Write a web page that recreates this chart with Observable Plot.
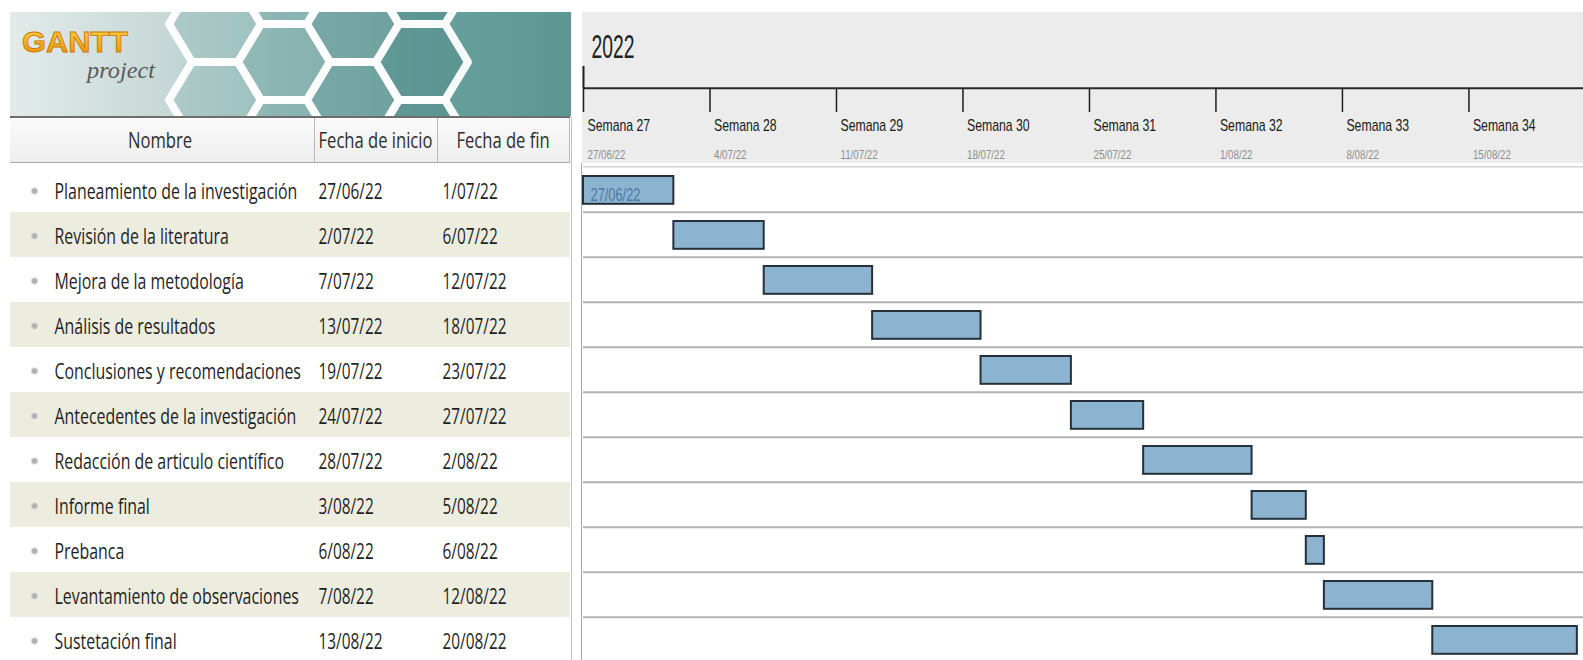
<!DOCTYPE html>
<html>
<head>
<meta charset="utf-8">
<script src="https://cdn.jsdelivr.net/npm/d3@7"></script>
<script src="https://cdn.jsdelivr.net/npm/@observablehq/plot@0.6"></script>
<style>
  html, body { margin: 0; padding: 0; background: #fff; }
  body { width: 1583px; height: 660px; overflow: hidden; position: relative; }
  .abs { position: absolute; }
  svg { display: block; }
</style>
</head>
<body>
<div id="logo" class="abs" style="left:10px;top:12px;width:561px;height:104px"></div>
<div id="thead" class="abs" style="left:10px;top:116px;width:560px;height:47px"></div>
<div id="table" class="abs" style="left:10px;top:163px"></div>
<div id="timeline" class="abs" style="left:582px;top:12px"></div>
<div id="gantt" class="abs" style="left:582px;top:163px"></div>
<div class="abs" style="left:571px;top:116px;width:1px;height:544px;background:#c4c4c4"></div>
<div class="abs" style="left:581px;top:163px;width:1px;height:497px;background:#a9a9a9"></div>
<script>
// ---------------- data ----------------
const tasks = [
  "Planeamiento de la investigación",
  "Revisión de la literatura",
  "Mejora de la metodología",
  "Análisis de resultados",
  "Conclusiones y recomendaciones",
  "Antecedentes de la investigación",
  "Redacción de articulo científico",
  "Informe final",
  "Prebanca",
  "Levantamiento de observaciones",
  "Sustetación final"
];
const startDates = ["2022-06-27","2022-07-02","2022-07-07","2022-07-13","2022-07-19","2022-07-24","2022-07-28","2022-08-03","2022-08-06","2022-08-07","2022-08-13"];
const endDates   = ["2022-07-01","2022-07-06","2022-07-12","2022-07-18","2022-07-23","2022-07-27","2022-08-02","2022-08-05","2022-08-06","2022-08-12","2022-08-20"];
const columnHeaders = ["Nombre", "Fecha de inicio", "Fecha de fin"];
const yearLabels = ["2022"];
const weekNumbers = [27, 28, 29, 30, 31, 32, 33, 34];
const weekStartDates = ["2022-06-27","2022-07-04","2022-07-11","2022-07-18","2022-07-25","2022-08-01","2022-08-08","2022-08-15"];
const viewStart = "2022-06-27T00:00Z";
const viewEnd = "2022-08-21T08:10Z";

// ---------------- helpers ----------------
const day = 864e5;
const parse = s => new Date(s + "T00:00Z");
const fmt = d3.utcFormat("%-d/%m/%y");
const rows = tasks.map((name, i) => ({
  name,
  start: parse(startDates[i]),
  end: parse(endDates[i]),
  endExcl: new Date(+parse(endDates[i]) + day),
  stripe: i % 2 === 1
}));
const weeks = weekStartDates.map((s, i) => ({date: parse(s), num: weekNumbers[i]}));
const x0 = new Date(viewStart), x1 = new Date(viewEnd);

// horizontally condense text glyphs (the reference uses a narrow UI font)
function scaleText(n, f) {
  let t = n.getAttribute("transform");
  if (!t) {
    const x = n.getAttribute("x") || 0, y = n.getAttribute("y") || 0;
    n.removeAttribute("x"); n.removeAttribute("y");
    t = `translate(${x},${y})`;
  }
  n.setAttribute("transform", `${t} scale(${f.toFixed(4)},1)`);
}
function squeezeTo(nodes, refIndex, target) {
  nodes = Array.from(nodes);
  const f = target / nodes[refIndex].getComputedTextLength();
  nodes.forEach(n => scaleText(n, f));
  return f;
}
function squeezeBy(nodes, f) { Array.from(nodes).forEach(n => scaleText(n, f)); }
const textGroups = svg => Array.from(svg.querySelectorAll('g[aria-label="text"]')).map(g => g.querySelectorAll("text"));

const tableFont = "'Open Sans', 'Noto Sans', sans-serif";
const tlFont = "'Liberation Sans', Arial, sans-serif";

// ---------------- logo (decoration) ----------------
(function drawLogo() {
  const W = 561, H = 104;
  const svg = d3.select("#logo").append("svg").attr("width", W).attr("height", H);
  const defs = svg.append("defs");
  const g = defs.append("linearGradient").attr("id", "lg").attr("x1", 0).attr("x2", 1).attr("y1", 0).attr("y2", 0);
  [[0, "#e3eaea"], [0.28, "#c6d8d7"], [0.5, "#8dbab7"], [0.72, "#69a19e"], [1, "#5c9794"]].forEach(([o, c]) => g.append("stop").attr("offset", o).attr("stop-color", c));
  const og = defs.append("linearGradient").attr("id", "og").attr("x1", 0).attr("x2", 0).attr("y1", 0).attr("y2", 1);
  [[0, "#ffd54d"], [1, "#e98c00"]].forEach(([o, c]) => og.append("stop").attr("offset", o).attr("stop-color", c));
  svg.append("rect").attr("width", W).attr("height", H).attr("fill", "url(#lg)");
  const R = 46, h = 38;
  const hex = (cx, cy) => [[cx - R, cy], [cx - R / 2, cy - h], [cx + R / 2, cy - h], [cx + R, cy], [cx + R / 2, cy + h], [cx - R / 2, cy + h]].join(" ");
  const cells = [];
  for (let c = 0; c < 4; c++) {
    const cx = 205 + c * 1.5 * R;
    const ys = c % 2 ? [-26, 50, 126] : [12, 88];
    ys.forEach(cy => cells.push([cx, cy]));
  }
  svg.append("g").selectAll("polygon").data(cells).join("polygon")
    .attr("points", d => hex(d[0], d[1]))
    .attr("fill", d => d3.interpolateRgb("#a9c7c5", "#3f807d")((d[0] - 180) / 300))
    .attr("fill-opacity", 0.6)
    .attr("stroke", "#ffffff")
    .attr("stroke-opacity", 0.95)
    .attr("stroke-width", 8)
    .attr("stroke-linejoin", "round");
  svg.append("text").attr("transform", "translate(12,40)").text("GANTT")
    .attr("font-family", "'Liberation Sans', Arial, sans-serif").attr("font-weight", "bold").attr("font-size", 29)
    .attr("fill", "url(#og)").attr("stroke", "#c97800").attr("stroke-width", 0.8);
  svg.append("text").attr("transform", "translate(77,66)").text("project")
    .attr("font-family", "'Liberation Serif', serif").attr("font-style", "italic").attr("font-size", 24)
    .attr("fill", "#5b5b5b");
  const lt = svg.selectAll("text").nodes();
  squeezeTo([lt[0]], 0, 106);
  squeezeTo([lt[1]], 0, 68);
})();

// ---------------- table header ----------------
(function drawTableHeader() {
  const W = 560, H = 47;
  const svg = d3.select("#thead").append("svg").attr("width", W).attr("height", H);
  const defs = svg.append("defs");
  const g = defs.append("linearGradient").attr("id", "hg").attr("x1", 0).attr("x2", 0).attr("y1", 0).attr("y2", 1);
  [[0, "#fbfbfb"], [1, "#eeeeee"]].forEach(([o, c]) => g.append("stop").attr("offset", o).attr("stop-color", c));
  svg.append("rect").attr("width", W).attr("height", H).attr("fill", "url(#hg)");
  svg.append("line").attr("x1", 0).attr("x2", W).attr("y1", 1).attr("y2", 1).attr("stroke", "#6e6e6e").attr("stroke-width", 2);
  svg.append("line").attr("x1", 0).attr("x2", W).attr("y1", H - 0.5).attr("y2", H - 0.5).attr("stroke", "#a8a8a8");
  const seps = [304, 427, 559];
  seps.forEach(s => svg.append("line").attr("x1", s + 0.5).attr("x2", s + 0.5).attr("y1", 2).attr("y2", H).attr("stroke", "#b8b8b8"));
  const centers = [150, 365.5, 493];
  const t = svg.selectAll("text.h").data(columnHeaders).join("text")
    .attr("transform", (d, i) => `translate(${centers[i]},24)`).attr("dy", "0.35em")
    .attr("text-anchor", "middle").attr("font-family", tableFont).attr("font-size", 22).attr("fill", "#2e2e2e")
    .text(d => d);
  squeezeTo(t.nodes(), 1, 114);
})();

// ---------------- table body (Plot) ----------------
const bandRange = [1.6, 500.7];
const bw = (bandRange[1] - bandRange[0]) / tasks.length;

const table = Plot.plot({
  width: 560, height: 497, margin: 0,
  style: {background: "#ffffff", overflow: "hidden"},
  x: {axis: null},
  y: {type: "band", domain: tasks, range: bandRange, padding: 0, axis: null},
  marks: [
    Plot.cell(rows.filter(d => d.stripe), {y: "name", fill: "#ededdf"}),
    Plot.dot(rows, {y: "name", frameAnchor: "left", dx: 24, dy: 1, r: 3.3, fill: "#b3b3b3", stroke: "#dedede", strokeWidth: 1}),
    Plot.text(rows, {y: "name", text: "name", frameAnchor: "left", textAnchor: "start", dx: 44, dy: 2, fontSize: 22, fontFamily: tableFont, fill: "#1f1f1f"}),
    Plot.text(rows, {y: "name", text: d => fmt(d.start), frameAnchor: "left", textAnchor: "start", dx: 308, dy: 2, fontSize: 22, fontFamily: tableFont, fill: "#1f1f1f"}),
    Plot.text(rows, {y: "name", text: d => fmt(d.end), frameAnchor: "left", textAnchor: "start", dx: 432, dy: 2, fontSize: 22, fontFamily: tableFont, fill: "#1f1f1f"})
  ]
});
document.getElementById("table").appendChild(table);
{
  const [names, starts, ends] = textGroups(table);
  squeezeTo(names, 0, 243);
  const f = squeezeTo(starts, 0, 64);
  squeezeBy(ends, f);
}

// ---------------- timeline header (Plot) ----------------
const timeline = Plot.plot({
  width: 1001, height: 151,
  marginLeft: 1, marginRight: 0, marginTop: 0, marginBottom: 0,
  style: {background: "#ececec", overflow: "hidden"},
  x: {type: "utc", domain: [x0, x1], axis: null},
  y: {type: "band", domain: ["año", "semana"], range: [0, 151], padding: 0, axis: null},
  marks: [
    Plot.tickX([x0], {x: d => d, y: () => "año", insetTop: 53, stroke: "#1e1e1e", strokeWidth: 2}),
    Plot.ruleY(["semana"], {y: d => d, dy: -151 / 4, stroke: "#2a2a2a", strokeWidth: 2}),
    Plot.tickX(weeks, {x: "date", y: () => "semana", insetBottom: 51, stroke: "#1e1e1e", strokeWidth: 1.5}),
    Plot.text(yearLabels, {x: () => x0, y: () => "año", text: d => d, textAnchor: "start", dx: 8, dy: -4, fontSize: 33, fontFamily: tlFont, fill: "#222"}),
    Plot.text(weeks, {x: "date", y: () => "semana", text: d => "Semana " + d.num, textAnchor: "start", dx: 4, dy: 0, fontSize: 17, fontFamily: tlFont, fill: "#1a1a1a"}),
    Plot.text(weeks, {x: "date", y: () => "semana", text: d => fmt(d.date), textAnchor: "start", dx: 4, dy: 29, fontSize: 13, fontFamily: tlFont, fill: "#8e8e8e"})
  ]
});
document.getElementById("timeline").appendChild(timeline);
{
  const [yr, wk, sub] = textGroups(timeline);
  squeezeTo(yr, 0, 43);
  squeezeTo(wk, 0, 62.7);
  squeezeTo(sub, 0, 38);
}

// ---------------- gantt body (Plot) ----------------
const gantt = Plot.plot({
  width: 1001, height: 497,
  marginLeft: 1, marginRight: 0, marginTop: 0, marginBottom: 0,
  style: {background: "#ffffff", overflow: "hidden"},
  x: {type: "utc", domain: [x0, x1], axis: null},
  y: {type: "band", domain: tasks, range: bandRange, padding: 0, axis: null},
  marks: [
    Plot.ruleY([tasks[0]], {y: d => d, dy: -bw / 2 - 0.5, stroke: "#d2d2d2", strokeWidth: 1.5}),
    Plot.ruleY(tasks.slice(1), {y: d => d, dy: -bw / 2, stroke: "#b2b2b2", strokeWidth: 2}),
    Plot.barX(rows, {x1: "start", x2: "endExcl", y: "name", insetTop: 9, insetBottom: 8.2, fill: "#8cb4d0", stroke: "#24303a", strokeWidth: 2}),
    Plot.text([rows[0]], {x: "start", y: "name", text: d => fmt(d.start), textAnchor: "start", dx: 7, dy: 5, fontSize: 19, fontFamily: tlFont, fill: "#4a7aa6"})
  ]
});
document.getElementById("gantt").appendChild(gantt);
{
  const [lbl] = textGroups(gantt);
  squeezeTo(lbl, 0, 50);
}
</script>
</body>
</html>
